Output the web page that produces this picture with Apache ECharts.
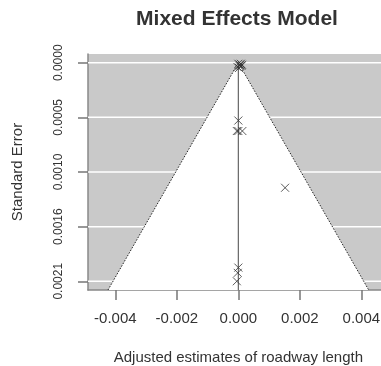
<!DOCTYPE html>
<html>
<head>
<meta charset="utf-8">
<script src="https://cdn.jsdelivr.net/npm/echarts@6/dist/echarts.min.js"></script>
<style>
html,body{margin:0;padding:0;background:#fff;}
#c{width:381px;height:366px;}
</style>
</head>
<body>
<div id="c"></div>
<script>
// ---- data ----
const titleText = 'Mixed Effects Model';
const xTitle = 'Adjusted estimates of roadway length';
const yTitle = 'Standard Error';
const xTicks = [-0.004, -0.002, 0, 0.002, 0.004];
const xTickLabels = ['-0.004', '-0.002', '0.000', '0.002', '0.004'];
const yTicks = [0, 0.00052, 0.00104, 0.00156, 0.00208];
const yTickLabels = ['0.0000', '0.0005', '0.0010', '0.0016', '0.0021'];
const estimate = 0;
// study estimates and their standard errors
const effects = [0, 0.00005, 0.0001, -0.00003, 0.00008, 0.00002, 0.00012, 0.00004,
                 0, -0.00005, 0, 0.00013,
                 0.00152,
                 0, -0.00002, -0.00005];
const stdErrors = [0.00001, 0.00002, 0.00003, 0.00004, 0.00001, 0.00005, 0.00002, 0.00003,
                   0.00055, 0.00065, 0.00065, 0.00065,
                   0.00119,
                   0.00195, 0.00200, 0.00208];
const xRange = [-0.00489, 0.00489];
const yRange = [-0.0000832, 0.0021632];
const zCrit = 1.96;

const seMax = yRange[1];
const funnel = [[estimate - zCrit * seMax, seMax], [estimate, 0], [estimate + zCrit * seMax, seMax]];
const points = effects.map((e, i) => [e, stdErrors[i]]);

const chart = echarts.init(document.getElementById('c'), null, {renderer: 'canvas'});
const font = 'Liberation Sans, Arial, Helvetica, sans-serif';
const pick = (ticks, labels) => v => { const i = ticks.findIndex(t => Math.abs(t - v) < 1e-9); return i >= 0 ? labels[i] : ''; };
chart.setOption({
  animation: false,
  backgroundColor: '#ffffff',
  title: {
    text: titleText, left: 232, top: 4, textAlign: 'center',
    textStyle: {fontFamily: font, fontSize: 21, fontWeight: 'bold', color: '#333'}
  },
  grid: {
    left: 88, top: 54, width: 300.7, height: 236,
    outerBoundsMode: 'none', containLabel: false,
    show: true, backgroundColor: '#c9c9c9', borderWidth: 0
  },
  xAxis: {
    type: 'value', min: xRange[0], max: xRange[1],
    name: xTitle, nameLocation: 'middle', nameGap: 60,
    nameTextStyle: {fontFamily: font, fontSize: 15, color: '#333'},
    axisLine: {show: true, onZero: false, lineStyle: {color: '#888', width: 1.5}},
    axisTick: {show: true, customValues: xTicks, length: 10, lineStyle: {color: '#777', width: 1.5}},
    axisLabel: {
      customValues: xTicks, margin: 21, showMinLabel: true, showMaxLabel: true,
      fontFamily: font, fontSize: 15, color: '#333',
      formatter: pick(xTicks, xTickLabels)
    },
    splitLine: {show: false}
  },
  yAxis: {
    type: 'value', min: yRange[0], max: yRange[1], inverse: true,
    name: yTitle, nameLocation: 'middle', nameGap: 63, nameRotate: 90,
    nameTextStyle: {fontFamily: font, fontSize: 15, color: '#333'},
    axisLine: {show: true, onZero: false, lineStyle: {color: '#888', width: 1.5}},
    axisTick: {show: true, customValues: yTicks, length: 10, lineStyle: {color: '#777', width: 1.5}},
    axisLabel: {
      customValues: yTicks, rotate: 90, margin: 23,
      fontFamily: font, fontSize: 12, color: '#333',
      formatter: pick(yTicks, yTickLabels)
    },
    splitLine: {show: false}
  },
  series: [
    {
      type: 'custom', z: 1, silent: true, clip: true,
      data: yTicks,
      renderItem: (params, api) => {
        const v = yTicks[params.dataIndex];
        const a = api.coord([xRange[0], v]);
        const b = api.coord([xRange[1], v]);
        return {type: 'line', shape: {x1: a[0], y1: a[1], x2: b[0], y2: b[1]},
                style: {stroke: '#ffffff', lineWidth: 1.5}};
      }
    },
    {
      type: 'custom', z: 2, silent: true, clip: true,
      data: [0],
      renderItem: (params, api) => {
        const pts = funnel.map(p => api.coord(p));
        return {
          type: 'group',
          children: [
            {type: 'polygon', shape: {points: pts}, style: {fill: '#ffffff'}},
            {type: 'polyline', shape: {points: pts},
             style: {stroke: '#222', lineWidth: 1, lineDash: [1.5, 1.5], fill: null}}
          ]
        };
      }
    },
    {
      type: 'line', z: 3, silent: true, symbol: 'none',
      data: [[estimate, 0], [estimate, seMax]],
      lineStyle: {color: '#666', width: 1.2}
    },
    {
      type: 'scatter', z: 4, silent: true,
      data: points,
      symbol: 'path://M0 0L10 10M10 0L0 10',
      symbolSize: 8,
      itemStyle: {color: 'rgba(0,0,0,0)', borderColor: '#333', borderWidth: 1}
    }
  ]
});
</script>
</body>
</html>
